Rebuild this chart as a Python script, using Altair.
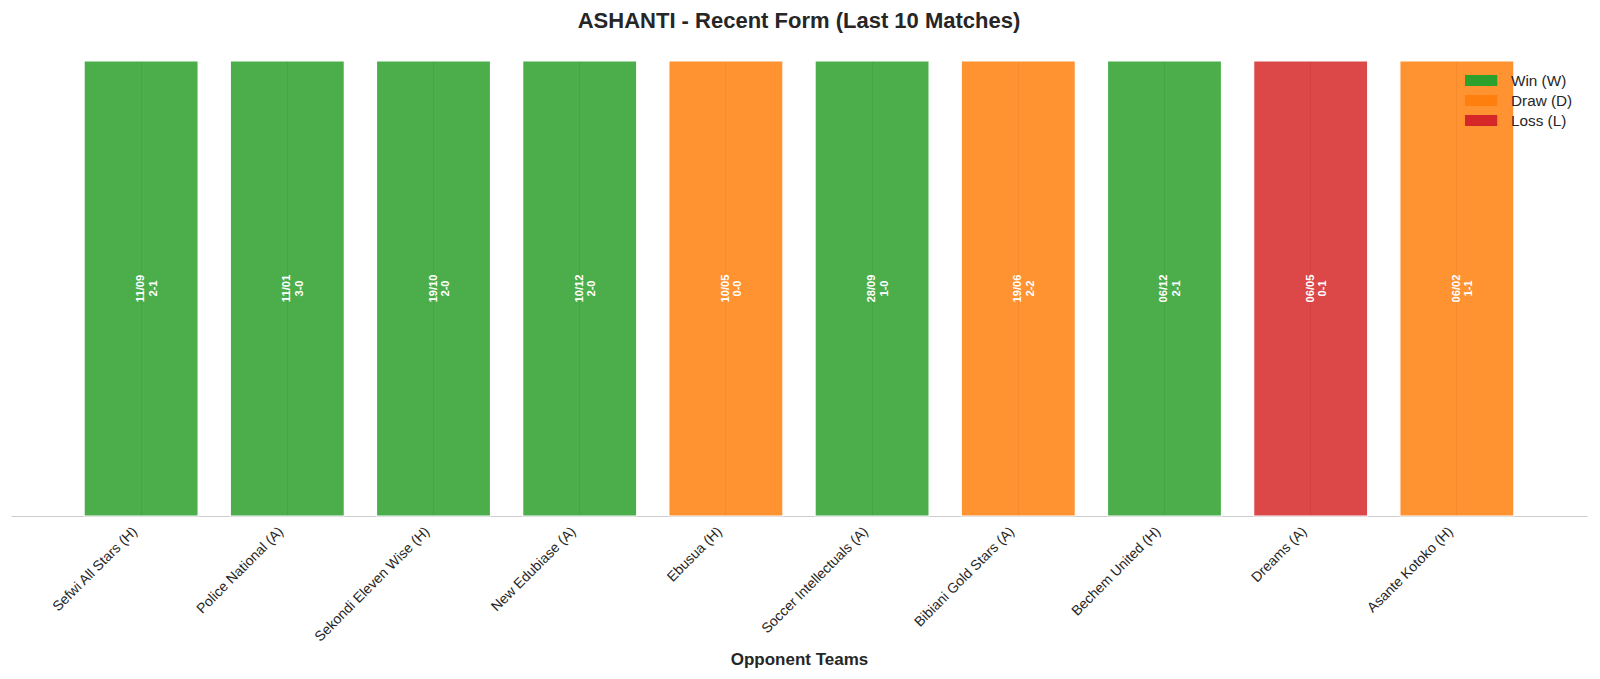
import altair as alt
import pandas as pd

# match data, oldest to newest as shown
opponents = [
    "Sefwi All Stars (H)", "Police National (A)", "Sekondi Eleven Wise (H)",
    "New Edubiase (A)", "Ebusua (H)", "Soccer Intellectuals (A)",
    "Bibiani Gold Stars (A)", "Bechem United (H)", "Dreams (A)", "Asante Kotoko (H)",
]
dates = ["11/09", "11/01", "19/10", "10/12", "10/05", "28/09", "19/06", "06/12", "06/05", "06/02"]
scores = ["2-1", "3-0", "2-0", "2-0", "0-0", "1-0", "2-2", "2-1", "0-1", "1-1"]
results = ["Win (W)", "Win (W)", "Win (W)", "Win (W)", "Draw (D)",
           "Win (W)", "Draw (D)", "Win (W)", "Loss (L)", "Draw (D)"]

result_order = ["Win (W)", "Draw (D)", "Loss (L)"]
result_colors = ["#2ca02c", "#ff7f0e", "#d62728"]

df = pd.DataFrame({
    "opponent": opponents,
    "label": [f"{d}\n{s}" for d, s in zip(dates, scores)],
    "result": results,
    "value": [1] * len(opponents),
    "mid": [0.5] * len(opponents),
})

x_enc = alt.X(
    "opponent:N", sort=opponents,
    scale=alt.Scale(paddingInner=0.22, paddingOuter=0.5),
    axis=alt.Axis(
        title="Opponent Teams", titleFontSize=17, titleFontWeight="bold",
        titleColor="#262626", titleBaseline="alphabetic", titleY=148,
        labelAngle=-45, labelAlign="right", labelBaseline="middle",
        labelFontSize=14, labelColor="#262626", labelOffset=-6, labelPadding=13,
        ticks=False, domainColor="#cccccc", grid=True, gridColor="#cccccc",
        bandPosition=0.5,
    ),
)

base = alt.Chart(df).encode(x=x_enc)

bars = base.mark_bar(opacity=0.85, stroke="white", strokeWidth=1.2).encode(
    y=alt.Y("value:Q", scale=alt.Scale(domain=[0, 1]), axis=None),
    color=alt.Color(
        "result:N",
        scale=alt.Scale(domain=result_order, range=result_colors),
        legend=alt.Legend(
            title=None, orient="none", legendX=1458.6, legendY=8, padding=0,
            symbolType="M-1.4,-0.48L1.4,-0.48L1.4,0.48L-1.4,0.48Z",
            symbolSize=529, symbolOpacity=1, symbolStrokeWidth=0,
            labelFontSize=15.3, labelColor="#262626", labelOffset=18.4, rowPadding=0,
        ),
    ),
)

labels = base.mark_text(
    angle=270, color="white", fontWeight="bold", fontSize=11.2,
    lineBreak="\n", lineHeight=12.6, align="center", baseline="middle",
).encode(
    y=alt.Y("mid:Q"),
    text="label:N",
)

chart = (bars + labels).properties(
    width=1576, height=455,
    autosize=alt.AutoSizeParams(type="none"),
    padding={"left": 3, "top": 53, "right": 5, "bottom": 154},
    title=alt.TitleParams(
        "ASHANTI - Recent Form (Last 10 Matches)",
        fontSize=22, fontWeight="bold", color="#262626", offset=27.5,
        anchor="middle",
    ),
).configure(font="Liberation Sans").configure_view(stroke=None)

chart.save("out.html", embed_options={"renderer": "svg", "actions": False})
